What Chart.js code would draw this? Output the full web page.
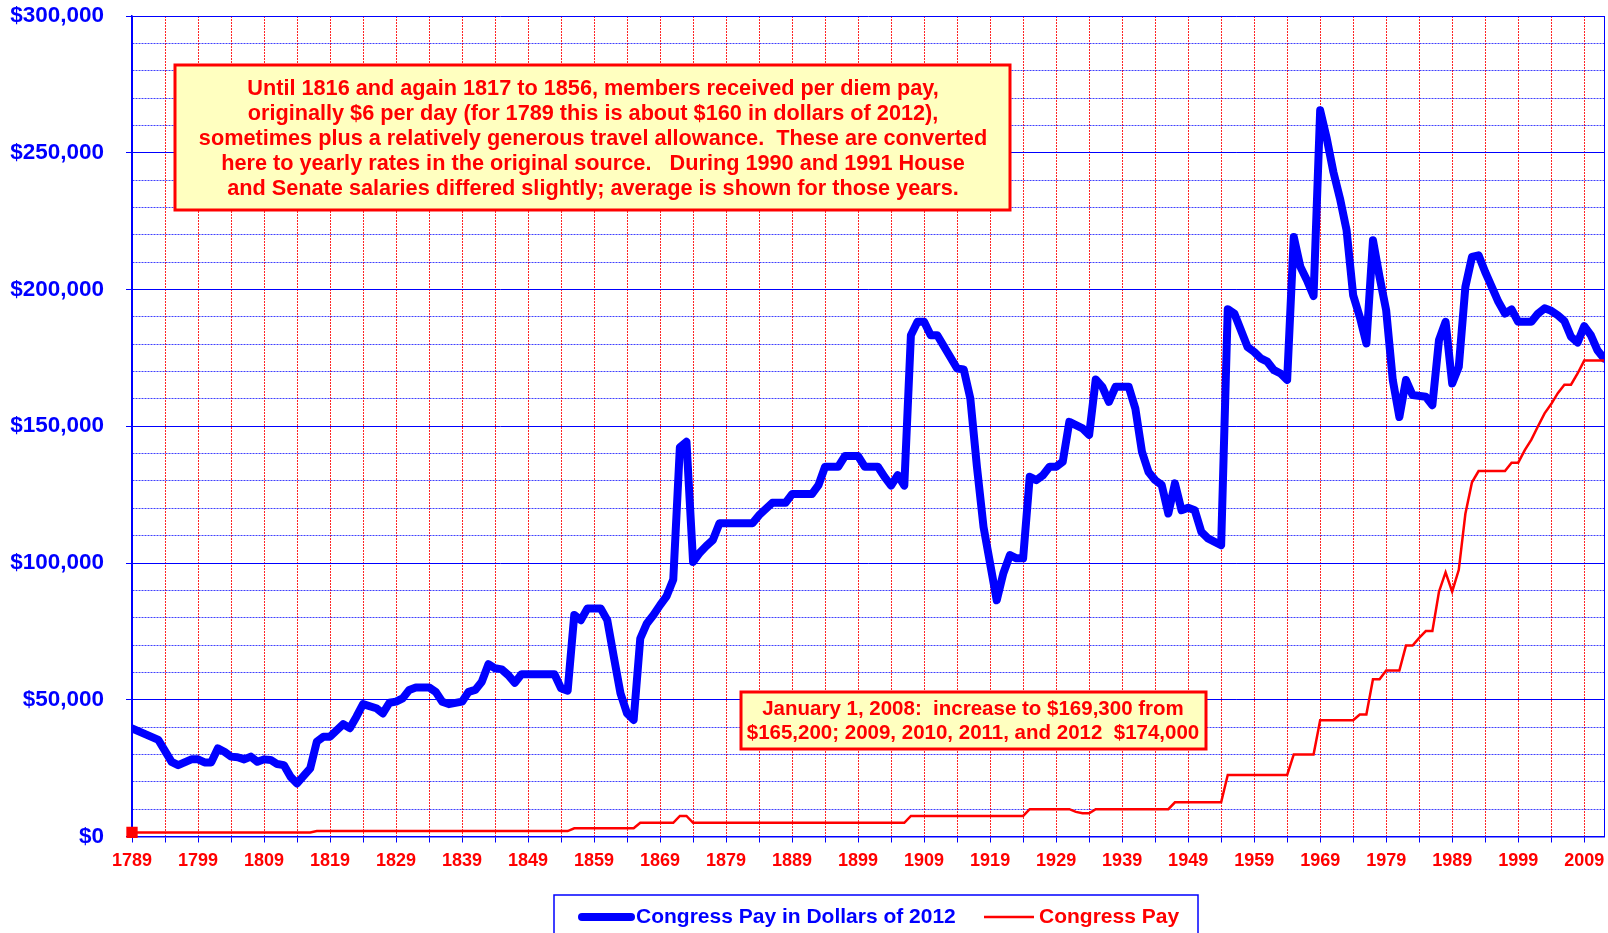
<!DOCTYPE html>
<html>
<head>
<meta charset="utf-8">
<script src="https://cdn.jsdelivr.net/npm/chart.js@4.4.1/dist/chart.umd.min.js"></script>
<style>
  html, body { margin: 0; padding: 0; background: #fff; }
  canvas { display: block; }
</style>
</head>
<body>
<canvas id="payChart" width="1608" height="933"></canvas>
<script>
// Congress pay in dollars of 2012
const realYears = [
  1789, 1793, 1795, 1796, 1798, 1799, 1800, 1801, 1802, 1803, 1804, 1805, 1806, 1807, 1808, 1809,
  1810, 1811, 1812, 1813, 1814, 1816, 1817, 1818, 1819, 1821, 1822, 1823, 1824, 1826, 1827, 1828,
  1829, 1830, 1831, 1832, 1834, 1835, 1836, 1837, 1839, 1840, 1841, 1842, 1843, 1844, 1845, 1846,
  1847, 1848, 1853, 1854, 1855, 1856, 1857, 1858, 1860, 1861, 1862, 1863, 1864, 1865, 1866, 1867,
  1868, 1869, 1870, 1871, 1872, 1873, 1874, 1875, 1876, 1877, 1878, 1883, 1884, 1886, 1888, 1889,
  1892, 1893, 1894, 1896, 1897, 1899, 1900, 1902, 1903, 1904, 1905, 1906, 1907, 1908, 1909, 1910,
  1911, 1914, 1915, 1916, 1917, 1918, 1920, 1921, 1922, 1923, 1924, 1925, 1926, 1927, 1928, 1929,
  1930, 1931, 1932, 1933, 1934, 1935, 1936, 1937, 1938, 1940, 1941, 1942, 1943, 1944, 1945, 1946,
  1947, 1948, 1949, 1950, 1951, 1952, 1954, 1955, 1956, 1958, 1959, 1960, 1961, 1962, 1963, 1964,
  1965, 1966, 1967, 1968, 1969, 1970, 1971, 1972, 1973, 1974, 1975, 1976, 1977, 1978, 1979, 1980,
  1981, 1982, 1983, 1985, 1986, 1987, 1988, 1989, 1990, 1991, 1992, 1993, 1994, 1995, 1996, 1997,
  1998, 1999, 2001, 2002, 2003, 2004, 2005, 2006, 2007, 2008, 2009, 2010, 2011, 2012
];
const realPay = [
  39500, 35300, 27300, 26100, 28200, 28200, 27100, 27100, 32200, 31000, 29200, 29000, 28200, 29200, 27300, 28200,
  28000, 26500, 26100, 21900, 19400, 24900, 34700, 36500, 36500, 41100, 39600, 43800, 48400, 46900, 45000, 48900,
  49300, 50500, 53600, 54500, 54500, 52900, 49300, 48400, 49300, 52900, 53600, 56600, 63000, 61500, 61100, 59000,
  56200, 59300, 59300, 54200, 53300, 81000, 79100, 83400, 83400, 79100, 65600, 52400, 45000, 42600, 72400, 77900,
  81000, 84600, 87900, 94000, 142300, 144300, 100400, 103700, 106200, 108400, 114500, 114500, 117500, 122000, 122000, 125200,
  125200, 128500, 135200, 135200, 139100, 139100, 135200, 135200, 131500, 128300, 132100, 128300, 183300, 188200, 188200, 183300,
  183300, 171100, 170800, 160200, 135200, 113200, 86400, 96200, 102900, 101700, 101700, 131500, 130300, 132100, 135200, 135200,
  137000, 151600, 150400, 149200, 146800, 167100, 164400, 158900, 164400, 164400, 156500, 140700, 133300, 130300, 128500, 118100,
  129100, 119300, 120200, 119300, 111400, 109000, 106500, 192800, 191200, 179000, 177200, 174800, 173600, 170500, 169300, 166900,
  219200, 208300, 203400, 197600, 265500, 255200, 243000, 233300, 221700, 197900, 190000, 180300, 218000, 204600, 192400, 166900,
  153400, 166900, 161400, 160800, 157700, 181500, 188200, 165600, 171700, 201000, 211900, 212500, 206400, 201000, 195500, 191200,
  192700, 188200, 188200, 191200, 193100, 192200, 190600, 188500, 182700, 180600, 186600, 183300, 177800, 174800
];

// Congress pay in current (nominal) dollars
const nominalYears = [
  1789, 1816, 1817, 1855, 1856, 1865, 1866, 1871, 1872, 1873, 1874, 1906, 1907, 1924, 1925, 1931,
  1932, 1933, 1934, 1935, 1946, 1947, 1954, 1955, 1964, 1965, 1968, 1969, 1974, 1975, 1976, 1977,
  1978, 1979, 1981, 1982, 1983, 1984, 1985, 1986, 1987, 1988, 1989, 1990, 1991, 1992, 1993, 1997,
  1998, 1999, 2000, 2001, 2002, 2003, 2004, 2005, 2006, 2007, 2008, 2009, 2012
];
const nominalPay = [
  1500, 1500, 2000, 2000, 3000, 3000, 5000, 5000, 7500, 7500, 5000, 5000, 7500, 7500, 10000, 10000,
  9000, 8500, 8500, 10000, 10000, 12500, 12500, 22500, 22500, 30000, 30000, 42500, 42500, 44600, 44600, 57500,
  57500, 60700, 60700, 69800, 69800, 72600, 75100, 75100, 89500, 96600, 89500, 97500, 118000, 129500, 133600, 133600,
  136700, 136700, 141300, 145100, 150000, 154700, 158100, 162100, 165200, 165200, 169300, 174000, 174000
];

// x axis: grid every 5 years, labels every 10 years
const gridYears = [
  1789, 1794, 1799, 1804, 1809, 1814, 1819, 1824, 1829, 1834, 1839, 1844, 1849, 1854, 1859, 1864,
  1869, 1874, 1879, 1884, 1889, 1894, 1899, 1904, 1909, 1914, 1919, 1924, 1929, 1934, 1939, 1944,
  1949, 1954, 1959, 1964, 1969, 1974, 1979, 1984, 1989, 1994, 1999, 2004, 2009, 2012
];
const labelYears = [
  1789, 1799, 1809, 1819, 1829, 1839, 1849, 1859, 1869, 1879, 1889, 1899, 1909, 1919, 1929, 1939,
  1949, 1959, 1969, 1979, 1989, 1999, 2009
];

const noteTopLines = [
  'Until 1816 and again 1817 to 1856, members received per diem pay,',
  'originally $6 per day (for 1789 this is about $160 in dollars of 2012),',
  'sometimes plus a relatively generous travel allowance.  These are converted',
  'here to yearly rates in the original source.   During 1990 and 1991 House',
  'and Senate salaries differed slightly; average is shown for those years.'
];
const noteBottomLines = [
  'January 1, 2008:  increase to $169,300 from',
  '$165,200; 2009, 2010, 2011, and 2012  $174,000'
];

const FONT = '"Liberation Sans", Arial, sans-serif';
const BLUE = '#0000FF';
const RED = '#FF0000';

function toPoints(xs, ys) {
  return xs.map((x, i) => ({ x: x, y: ys[i] }));
}

// yellow text boxes drawn over the grid, under the lines
const notesPlugin = {
  id: 'notes',
  beforeDatasetsDraw(chart) {
    const ctx = chart.ctx;
    const boxes = [
      { l: 175, t: 65, r: 1010, b: 210, cx: 593, y0: 89.5, step: 24.8, size: 21.7, lines: noteTopLines },
      { l: 741, t: 692, r: 1206, b: 749, cx: 973, y0: 709.5, step: 23.6, size: 20.5, lines: noteBottomLines }
    ];
    ctx.save();
    boxes.forEach(bx => {
      ctx.fillStyle = '#FFFFC0';
      ctx.fillRect(bx.l, bx.t, bx.r - bx.l, bx.b - bx.t);
      ctx.lineWidth = 3;
      ctx.strokeStyle = RED;
      ctx.strokeRect(bx.l, bx.t, bx.r - bx.l, bx.b - bx.t);
      ctx.fillStyle = RED;
      ctx.font = 'bold ' + bx.size + 'px ' + FONT;
      ctx.textAlign = 'center';
      ctx.textBaseline = 'middle';
      bx.lines.forEach((line, i) => ctx.fillText(line, bx.cx, bx.y0 + i * bx.step));
    });
    ctx.restore();
  }
};

// boxed legend at the bottom
const legendPlugin = {
  id: 'boxLegend',
  afterDraw(chart) {
    const ctx = chart.ctx;
    const ds = chart.data.datasets;
    const y = 917;
    ctx.save();
    ctx.lineWidth = 1.5;
    ctx.strokeStyle = BLUE;
    ctx.strokeRect(554, 895, 644, 60);
    ctx.font = 'bold 21px ' + FONT;
    ctx.textAlign = 'left';
    ctx.textBaseline = 'middle';
    // real pay
    ctx.lineCap = 'round';
    ctx.lineWidth = 8;
    ctx.strokeStyle = ds[1].borderColor;
    ctx.beginPath(); ctx.moveTo(582, y); ctx.lineTo(631, y); ctx.stroke();
    ctx.fillStyle = ds[1].borderColor;
    ctx.fillText(ds[1].label, 636, y);
    // nominal pay
    ctx.lineCap = 'butt';
    ctx.lineWidth = 2.5;
    ctx.strokeStyle = ds[0].borderColor;
    ctx.beginPath(); ctx.moveTo(984, y); ctx.lineTo(1034, y); ctx.stroke();
    ctx.fillStyle = ds[0].borderColor;
    ctx.fillText(ds[0].label, 1039, y);
    ctx.restore();
  }
};

const ctx = document.getElementById('payChart').getContext('2d');

new Chart(ctx, {
  type: 'line',
  data: {
    datasets: [
      {
        label: 'Congress Pay',
        data: toPoints(nominalYears, nominalPay),
        borderColor: RED,
        backgroundColor: RED,
        borderWidth: 2.5,
        tension: 0,
        clip: 12,
        pointStyle: 'rect',
        pointRadius: c => (c.dataIndex === 0 ? 8 : 0),
        pointHoverRadius: c => (c.dataIndex === 0 ? 8 : 0),
        pointBorderWidth: 0
      },
      {
        label: 'Congress Pay in Dollars of 2012',
        data: toPoints(realYears, realPay),
        borderColor: BLUE,
        backgroundColor: BLUE,
        borderWidth: 8,
        borderJoinStyle: 'round',
        borderCapStyle: 'round',
        tension: 0,
        pointRadius: 0,
        pointHoverRadius: 0
      }
    ]
  },
  options: {
    responsive: false,
    animation: false,
    layout: { autoPadding: false, padding: { top: 16, right: 4, bottom: 60, left: 0 } },
    plugins: {
      legend: { display: false },
      tooltip: { enabled: false }
    },
    scales: {
      x: {
        type: 'linear',
        min: 1789,
        max: 2012,
        afterBuildTicks: s => { s.ticks = gridYears.map(v => ({ value: v })); },
        afterFit: s => { s.height = 36.5; s.paddingLeft = 0; s.paddingRight = 0; },
        grid: {
          color: c => (c.tick && (c.tick.value === 1789 || c.tick.value === 2012)) ? BLUE : 'rgba(255,0,0,0.85)',
          lineWidth: 1,
          tickLength: 6,
          tickColor: c => (c.tick && c.tick.value === 2012) ? 'rgba(0,0,0,0)' : BLUE,
          tickBorderDash: []
        },
        border: {
          color: BLUE,
          width: 1.5,
          dash: c => (c.tick && c.tick.value !== 1789 && c.tick.value !== 2012) ? [2, 1] : []
        },
        ticks: {
          autoSkip: false,
          maxRotation: 0,
          padding: 8,
          color: RED,
          font: { family: FONT, size: 18, weight: 'bold' },
          callback: v => (labelYears.includes(v) ? String(v) : '')
        }
      },
      y: {
        min: 0,
        max: 300000,
        afterFit: s => { s.width = 132; s.paddingTop = 8; s.paddingBottom = 8; },
        grid: {
          color: c => (c.tick && c.tick.value % 50000 === 0) ? BLUE : 'rgba(0,0,255,0.75)',
          lineWidth: 1,
          tickLength: 6,
          tickColor: c => (c.tick && c.tick.value % 50000 === 0) ? BLUE : 'rgba(0,0,0,0)',
          tickBorderDash: []
        },
        border: {
          color: BLUE,
          width: 1.5,
          dash: c => (c.tick && c.tick.value % 50000 !== 0) ? [2, 1] : []
        },
        ticks: {
          stepSize: 10000,
          autoSkip: false,
          padding: 22,
          color: BLUE,
          font: { family: FONT, size: 22.5, weight: 'bold' },
          callback: v => (v % 50000 === 0 ? '$' + v.toLocaleString('en-US') : '')
        }
      }
    }
  },
  plugins: [notesPlugin, legendPlugin]
});
</script>
</body>
</html>
